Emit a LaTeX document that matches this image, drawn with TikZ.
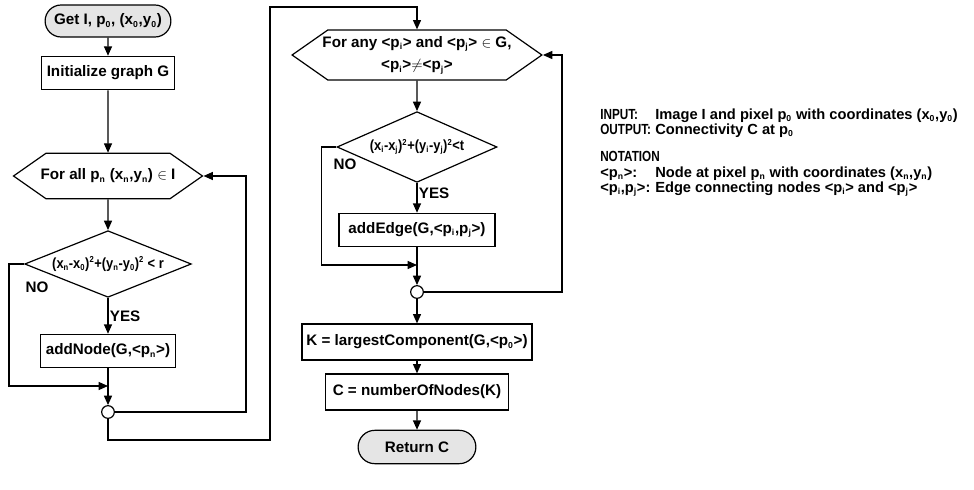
\documentclass[tikz,border=0pt]{standalone}
\usepackage{fontspec}
\setmainfont{Liberation Sans}
\usetikzlibrary{shapes.geometric,shapes.misc,shapes.symbols,arrows.meta}

\newcommand{\subs}[1]{\textsubscript{\fontsize{6.5}{7}\selectfont #1}}
\newcommand{\sups}[1]{\textsuperscript{\fontsize{6.5}{7}\selectfont #1}}
\newcommand{\keytext}[1]{\scalebox{0.8}[1]{#1}}
\newcommand{\testtext}[1]{\scalebox{0.88}[1]{#1}}

\tikzstyle{term}  = [rounded rectangle, draw, fill=black!10, minimum height=24pt, line width=0.9pt]
\tikzstyle{proc}  = [rectangle, draw, minimum height=25pt, line width=0.9pt]
\tikzstyle{each}  = [signal, signal to=east and west, signal from=nowhere, signal pointer angle=70, draw, line width=0.9pt]
\tikzstyle{test}  = [diamond, aspect=2.5, inner sep=0pt, draw, line width=0.9pt, font=\bfseries\fontsize{11}{13}\selectfont]
\tikzstyle{merge} = [circle, draw, inner sep=0pt, minimum size=9.5pt, line width=0.9pt]
\tikzstyle{arrow} = [line width=0.9pt, -{Triangle[length=7pt,width=6pt]}]
\tikzstyle{note}  = [anchor=base west, inner sep=0pt, font=\bfseries\fontsize{11}{13}\selectfont]

\begin{document}
\begin{tikzpicture}[x=7.5pt, y=-7.5pt, font=\bfseries\fontsize{11.4}{13}\selectfont]
        \useasboundingbox (0,0) rectangle (97.4,48.9);

        % left column: collect the nodes
        \node[term, minimum width=101pt] (get) at (10.8,2.1) {Get I, p\subs{0}, (x\subs{0},y\subs{0})};
        \node[proc, minimum width=100pt] (init) at (10.8,7.3) {Initialize graph G};
        \node[each, minimum width=139.5pt, minimum height=34pt, inner xsep=-4pt] (all) at (10.8,17.6) {For all p\subs{n} (x\subs{n},y\subs{n}) $\in$ I};
        \node[test, minimum width=125pt, minimum height=50pt] (near) at (10.8,26.4) {\testtext{(x\subs{n}-x\subs{0})\sups{2}+(y\subs{n}-y\subs{0})\sups{2} < r}};
        \node[proc, minimum width=101pt] (add) at (10.8,35.1) {addNode(G,<p\subs{n}>)};
        \node[merge] (m1) at (10.8,41.2) {};
        \coordinate (in1) at (10.8,38.6);
        \node (no1) at (3.7,28.7) {NO};

        \draw[arrow] (get) -- (init);
        \draw[arrow] (init) -- (all);
        \draw[arrow] (all) -- (near);
        \draw[arrow] (near) -- node[right, inner sep=1pt] {YES} (add);
        \draw[arrow] (add) -- (m1);
        \draw[arrow] (near.west) -- ++(-1.5,0) |- (in1);
        \draw[arrow] (m1.east) -- ++(13.1,0) |- (all.east);

        % middle column: edges and result
        \node[each, minimum width=184pt, minimum height=37.5pt, inner xsep=-4pt, align=center] (any) at (41.7,5.5) {For any <p\subs{i}> and <p\subs{j}> $\in$ G,\\[4pt]<p\subs{i}>$\neq$<p\subs{j}>};
        \node[test, minimum width=120pt, minimum height=53pt] (close) at (41.7,14.7) {\testtext{(x\subs{i}-x\subs{j})\sups{2}+(y\subs{i}-y\subs{j})\sups{2}<t}};
        \node[proc, minimum width=117pt] (edge) at (41.7,23.0) {addEdge(G,<p\subs{i},p\subs{j}>)};
        \node[merge] (m2) at (41.7,29.2) {};
        \coordinate (in2) at (41.7,26.5);
        \node (no2) at (34.5,16.4) {NO};
        \node[proc, minimum width=172.5pt, minimum height=27pt] (big) at (41.7,34.2) {K = largestComponent(G,<p\subs{0}>)};
        \node[proc, minimum width=137pt, minimum height=27pt] (count) at (41.7,39.2) {C = numberOfNodes(K)};
        \node[term, minimum width=95pt, minimum height=25pt] (ret) at (41.7,44.7) {Return C};

        \draw[arrow] (m1.south) -- ++(0,2.1) -| (27.0,0.7) -| (any.north);
        \draw[arrow] (any) -- (close);
        \draw[arrow] (close) -- node[right, inner sep=1pt, pos=0.35] {YES} (edge);
        \draw[arrow] (edge) -- (m2);
        \draw[arrow] (close.west) -- ++(-1.5,0) |- (in2);
        \draw[arrow] (m2.east) -- ++(13.8,0) |- (any.east);
        \draw[arrow] (m2) -- (big);
        \draw[arrow] (big) -- (count);
        \draw[arrow] (count) -- (ret);

        % legend
        \node[note] (inkey) at (60,11.9) {\keytext{INPUT:}};
        \node[note] (inval) at (65.5,11.9) {Image I and pixel p\subs{0} with coordinates (x\subs{0},y\subs{0})};
        \node[note] (outkey) at (60,13.4) {\keytext{OUTPUT:}};
        \node[note] (outval) at (65.5,13.4) {Connectivity C at p\subs{0}};
        \node[note] (notkey) at (60,16.1) {\keytext{NOTATION}};
        \node[note] (pnkey) at (60,17.7) {<p\subs{n}>:};
        \node[note] (pnval) at (65.5,17.7) {Node at pixel p\subs{n} with coordinates (x\subs{n},y\subs{n})};
        \node[note] (ekey) at (60,19.2) {<p\subs{i},p\subs{j}>:};
        \node[note] (eval) at (65.5,19.2) {Edge connecting nodes <p\subs{i}> and <p\subs{j}>};
    \end{tikzpicture}
\end{document}
